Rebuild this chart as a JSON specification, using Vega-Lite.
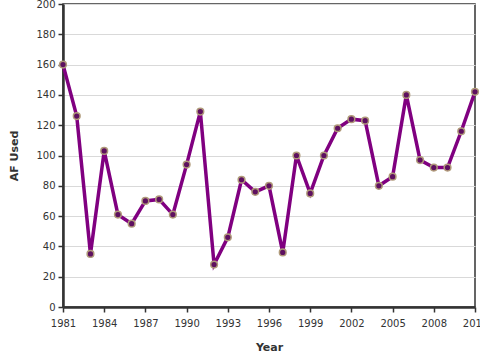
{
  "$schema": "https://vega.github.io/schema/vega-lite/v6.json",
  "autosize": {"type": "none"},
  "width": 412,
  "height": 303,
  "padding": {"left": 63, "top": 4, "right": 5, "bottom": 53},
  "config": {
    "font": "DejaVu Sans",
    "view": {"stroke": "#333333", "strokeWidth": 1.5},
    "axis": {
      "domainColor": "#333333",
      "domainWidth": 2.5,
      "tickColor": "#333333",
      "tickWidth": 1.5,
      "tickSize": 5,
      "labelColor": "#333333",
      "labelFontSize": 10,
      "titleFontSize": 11,
      "titleFontWeight": "bold",
      "titleColor": "#333333",
      "gridColor": "#d9d9d9",
      "labelFlush": false,
      "labelOverlap": false
    }
  },
  "data": {
    "values": [
      {"Year": 1981, "AF": 160},
      {"Year": 1982, "AF": 126},
      {"Year": 1983, "AF": 35},
      {"Year": 1984, "AF": 103},
      {"Year": 1985, "AF": 61},
      {"Year": 1986, "AF": 55},
      {"Year": 1987, "AF": 70},
      {"Year": 1988, "AF": 71},
      {"Year": 1989, "AF": 61},
      {"Year": 1990, "AF": 94},
      {"Year": 1991, "AF": 129},
      {"Year": 1992, "AF": 28},
      {"Year": 1993, "AF": 46},
      {"Year": 1994, "AF": 84},
      {"Year": 1995, "AF": 76},
      {"Year": 1996, "AF": 80},
      {"Year": 1997, "AF": 36},
      {"Year": 1998, "AF": 100},
      {"Year": 1999, "AF": 75},
      {"Year": 2000, "AF": 100},
      {"Year": 2001, "AF": 118},
      {"Year": 2002, "AF": 124},
      {"Year": 2003, "AF": 123},
      {"Year": 2004, "AF": 80},
      {"Year": 2005, "AF": 86},
      {"Year": 2006, "AF": 140},
      {"Year": 2007, "AF": 97},
      {"Year": 2008, "AF": 92},
      {"Year": 2009, "AF": 92},
      {"Year": 2010, "AF": 116},
      {"Year": 2011, "AF": 142}
    ]
  },
  "encoding": {
    "x": {
      "field": "Year",
      "type": "quantitative",
      "scale": {"domain": [1981, 2011], "nice": false, "zero": false},
      "axis": {
        "values": [1981, 1984, 1987, 1990, 1993, 1996, 1999, 2002, 2005, 2008, 2011],
        "format": "d",
        "grid": false,
        "title": "Year",
        "labelPadding": 6,
        "titlePadding": 13
      }
    },
    "y": {
      "field": "AF",
      "type": "quantitative",
      "scale": {"domain": [0, 200], "nice": false},
      "axis": {
        "values": [0, 20, 40, 60, 80, 100, 120, 140, 160, 180, 200],
        "title": "AF Used",
        "grid": true,
        "labelPadding": 3,
        "titlePadding": 16
      }
    }
  },
  "layer": [
    {"mark": {"type": "line", "color": "#800080", "strokeWidth": 3.5, "clip": false}},
    {"mark": {"type": "point", "filled": true, "fill": "#5e1060", "stroke": "#b09a7a", "strokeWidth": 1.5, "size": 45, "opacity": 1}}
  ]
}
